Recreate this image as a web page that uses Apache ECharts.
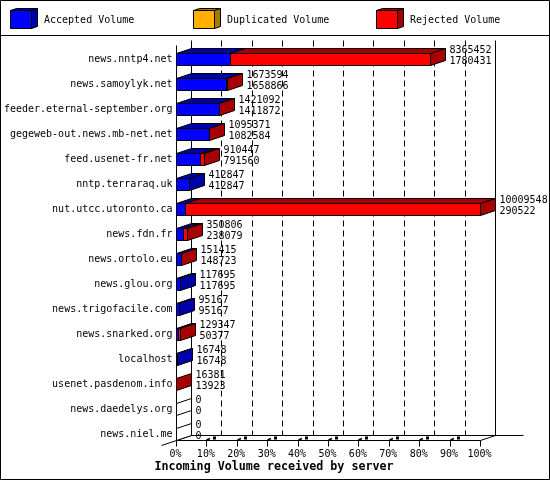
<!DOCTYPE html>
<html><head><meta charset="utf-8">
<style>html,body{margin:0;padding:0;background:#fff}#c{width:550px;height:480px}</style>
<script src="https://cdn.jsdelivr.net/npm/echarts@6/dist/echarts.min.js"></script>
</head><body><div id="c"></div>
<script>
const servers = ['news.nntp4.net','news.samoylyk.net','feeder.eternal-september.org','gegeweb-out.news.mb-net.net','feed.usenet-fr.net','nntp.terraraq.uk','nut.utcc.utoronto.ca','news.fdn.fr','news.ortolo.eu','news.glou.org','news.trigofacile.com','news.snarked.org','localhost','usenet.pasdenom.info','news.daedelys.org','news.niel.me'];
const incoming = [8365452,1673594,1421092,1095371,910447,412847,10009548,350806,151415,117695,95167,129347,16748,16381,0,0];
const accepted = [1780431,1658866,1411872,1082584,791560,412847,290522,238079,148723,117695,95167,50377,16748,13923,0,0];
const percentTicks = [0,10,20,30,40,50,60,70,80,90,100];
const legendNames = ['Accepted Volume','Duplicated Volume','Rejected Volume'];
const title = 'Incoming Volume received by server';

const FONT = '"DejaVu Sans Mono","Liberation Mono",monospace';
const DX = 15, DY = -5, BLUE=['#0000ff','#0000a8'], ORANGE=['#ffaf00','#a87800'], RED=['#ff0000','#a80000'];
const maxV = Math.max(...incoming);
const pct = v => v / maxV * 100;
const snap = v => Math.round(v - 0.5) + 0.5;
const line = (x1,y1,x2,y2,extra) => ({type:'line',shape:{x1,y1,x2,y2},style:Object.assign({stroke:'#000',lineWidth:1,fill:null},extra||{})});
const poly = (pts,fill) => ({type:'polygon',shape:{points:pts},style:{fill,stroke:'#000',lineWidth:1}});

function renderFrame(params, api){
  const p = api.value(0);
  const c0 = api.coord([p,0]), c15 = api.coord([p,servers.length-1]);
  const x = snap(c0[0]), top = c0[1]-19, bot = snap(c15[1]+6);
  const els=[];
  const bx = x+DX, by = bot+DY;
  if(p===0){
    els.push(line(bx,top,bx,by));
    els.push(line(x,top+5,x,bot));
    els.push(line(x-DX,bot+5,bx,by));
    els.push(line(x,bot,x,bot+6));
  } else if(p===100){
    els.push(line(bx,top,bx,by));
    els.push(line(x,bot,bx,by));
    els.push(line(x,bot,x,bot+6));
  } else {
    els.push(line(bx,top,bx,by,{lineDash:[6,4]}));
    els.push(line(x,bot,x,bot+6));
    els.push(line(x,bot-0.5,x+3.5,bot-2,{lineWidth:1.5}));
    els.push(line(x+6.5,bot-2.5,x+9.5,bot-2.5,{lineWidth:3}));
  }
  if(p===0){
    const xr = snap(api.coord([100,0])[0]);
    els.push(line(x,bot,xr,bot));
    els.push(line(bx,by,xr+DX+28,by));
  }
  return {type:'group',children:els};
}

function renderBar(params, api){
  const i = api.value(0), acc = api.value(1), tot = api.value(2);
  const c = api.coord([0,i]);
  const x0 = snap(c[0]), top = snap(c[1]-6), bot = top+12;
  const xa = snap(api.coord([pct(acc),i])[0]);
  const xt = snap(api.coord([pct(tot),i])[0]);
  const els=[];
  if(tot===0){
    els.push({type:'polygon',shape:{points:[[x0,top],[x0+DX,top+DY],[x0+DX,bot+DY],[x0,bot]]},style:{fill:'#fff',stroke:'#000',lineWidth:1}});
  } else {
    const endCol = tot>acc ? RED : BLUE;
    if(xa>x0) els.push(poly([[x0,top],[x0+DX,top+DY],[xa+DX,top+DY],[xa,top]],BLUE[1]));
    if(xt>xa) els.push(poly([[xa,top],[xa+DX,top+DY],[xt+DX,top+DY],[xt,top]],RED[1]));
    if(xa>x0) els.push(poly([[x0,top],[xa,top],[xa,bot],[x0,bot]],BLUE[0]));
    if(xt>xa) els.push(poly([[xa,top],[xt,top],[xt,bot],[xa,bot]],RED[0]));
    els.push(poly([[xt,top],[xt+DX,top+DY],[xt+DX,bot+DY],[xt,bot]],endCol[1]));
  }
  const tx = xt+DX+4;
  const mk=(t,y)=>({type:'text',style:{text:String(t),x:tx,y,font:'10px '+FONT,fill:'#000',textAlign:'left',textVerticalAlign:'middle'}});
  els.push(mk(tot,top-3)); els.push(mk(acc,bot-4));
  return {type:'group',children:els};
}

const legendX=[10,193,376], legendCols=[BLUE,ORANGE,RED];
const graphics=[
  {type:'rect',shape:{x:0.5,y:0.5,width:549,height:479},style:{fill:null,stroke:'#000',lineWidth:1},z:100},
  {type:'line',shape:{x1:0,y1:35.5,x2:550,y2:35.5},style:{stroke:'#000',lineWidth:1}},
  {type:'text',style:{text:title,x:274,y:467,font:'bold 11.7px '+FONT,fill:'#000',textAlign:'center',textVerticalAlign:'middle'}}
];
legendNames.forEach((n,i)=>{
  const x=legendX[i]+0.5, col=legendCols[i];
  graphics.push({type:'polygon',shape:{points:[[x,10.5],[x+6,8.5],[x+27,8.5],[x+21,10.5]]},style:{fill:col[1],stroke:'#000',lineWidth:1}});
  graphics.push({type:'polygon',shape:{points:[[x+21,10.5],[x+27,8.5],[x+27,26.5],[x+21,28.5]]},style:{fill:col[1],stroke:'#000',lineWidth:1}});
  graphics.push({type:'rect',shape:{x,y:10.5,width:21,height:18},style:{fill:col[0],stroke:'#000',lineWidth:1}});
  graphics.push({type:'text',style:{text:n,x:x+33.5,y:20,font:'10px '+FONT,fill:'#000',textAlign:'left',textVerticalAlign:'middle'}});
});

const chart = echarts.init(document.getElementById('c'),null,{renderer:'canvas'});
chart.setOption({
  animation:false,
  backgroundColor:'#fff',
  grid:{left:176.5,width:304,top:47,height:400},
  xAxis:{type:'value',min:0,max:100,interval:10,
    axisLine:{show:false},axisTick:{show:false},splitLine:{show:false},
    axisLabel:{formatter:'{value}%',margin:2,padding:[0,2,0,0],color:'#000',fontFamily:FONT,fontSize:10,hideOverlap:false,showMinLabel:true,showMaxLabel:true}},
  yAxis:{type:'category',inverse:true,data:servers,
    axisLine:{show:false},axisTick:{show:false},splitLine:{show:false},
    axisLabel:{margin:4,color:'#000',fontFamily:FONT,fontSize:10,interval:0}},
  graphic:graphics,
  series:[
    {type:'custom',name:'frame',coordinateSystem:'cartesian2d',z:1,clip:false,silent:true,
     data:percentTicks.map(p=>[p]),encode:{x:0},renderItem:renderFrame},
    {type:'custom',name:'volume',coordinateSystem:'cartesian2d',z:2,clip:false,silent:true,
     data:servers.map((s,i)=>[i,accepted[i],incoming[i]]),encode:{y:0},renderItem:renderBar}
  ]
});
</script></body></html>
